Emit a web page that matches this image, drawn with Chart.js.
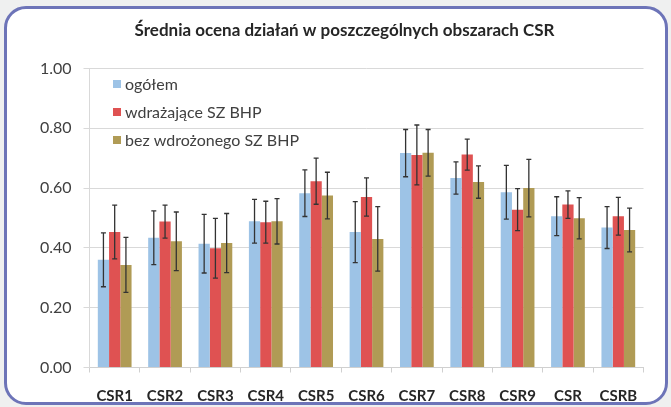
<!DOCTYPE html>
<html>
<head>
<meta charset="utf-8">
<script src="https://cdn.jsdelivr.net/npm/chart.js@4/dist/chart.umd.min.js"></script>
<style>
  html, body { margin: 0; padding: 0; background: #eff0f0; }
  #wrap { position: relative; width: 671px; height: 407px; overflow: hidden; }
  #frame {
    position: absolute; left: 4px; top: 6px; width: 658px; height: 393px;
    border: 3px solid #6d74b8; border-radius: 22px; background: #fff;
  }
  #c { position: absolute; left: 0; top: 0; }
</style>
</head>
<body>
<div id="wrap">
  <div id="frame"></div>
  <canvas id="c" width="671" height="407"></canvas>
</div>
<script>
const titleText = 'Średnia ocena działań w poszczególnych obszarach CSR';
const categories = ['CSR1', 'CSR2', 'CSR3', 'CSR4', 'CSR5', 'CSR6', 'CSR7', 'CSR8', 'CSR9', 'CSR', 'CSRB'];
const seriesNames = ['ogółem', 'wdrażające SZ BHP', 'bez wdrożonego SZ BHP'];
const ogolem = [0.36, 0.434, 0.414, 0.489, 0.583, 0.453, 0.717, 0.634, 0.586, 0.506, 0.468];
const wdrazajace = [0.453, 0.488, 0.399, 0.486, 0.623, 0.570, 0.711, 0.712, 0.528, 0.545, 0.506];
const bezWdrozonego = [0.343, 0.422, 0.416, 0.489, 0.575, 0.430, 0.718, 0.620, 0.600, 0.499, 0.460];
// half-widths of the error bars
const errOgolem = [0.09, 0.09, 0.098, 0.073, 0.078, 0.102, 0.079, 0.054, 0.09, 0.065, 0.07];
const errWdrazajace = [0.09, 0.055, 0.10, 0.07, 0.077, 0.064, 0.10, 0.052, 0.07, 0.046, 0.063];
const errBez = [0.092, 0.098, 0.099, 0.076, 0.078, 0.108, 0.078, 0.054, 0.096, 0.069, 0.073];
const yTickLabels = ['0.00', '0.20', '0.40', '0.60', '0.80', '1.00'];

const colors = ['#9dc3e6', '#df5252', '#b09b55'];
const errors = [errOgolem, errWdrazajace, errBez];

const errorBars = {
  id: 'errorBars',
  afterDatasetsDraw(chart) {
    const ctx = chart.ctx;
    const y = chart.scales.y;
    ctx.save();
    ctx.strokeStyle = '#333';
    ctx.lineWidth = 1.3;
    chart.data.datasets.forEach((ds, i) => {
      const meta = chart.getDatasetMeta(i);
      meta.data.forEach((bar, j) => {
        const v = ds.data[j], e = errors[i][j];
        const top = y.getPixelForValue(v + e);
        const bot = y.getPixelForValue(v - e);
        ctx.beginPath();
        ctx.moveTo(bar.x, top); ctx.lineTo(bar.x, bot);
        ctx.moveTo(bar.x - 2.5, top); ctx.lineTo(bar.x + 2.5, top);
        ctx.moveTo(bar.x - 2.5, bot); ctx.lineTo(bar.x + 2.5, bot);
        ctx.stroke();
      });
    });
    ctx.restore();
  }
};

// title and legend sit at fixed spots like in the original picture
const titleAndLegend = {
  id: 'titleAndLegend',
  afterDraw(chart) {
    const ctx = chart.ctx;
    ctx.save();
    ctx.textBaseline = 'middle';
    ctx.textAlign = 'center';
    ctx.font = 'bold 17px Lato';
    ctx.fillStyle = '#262626';
    ctx.fillText(titleText, 344.5, 31);

    ctx.textAlign = 'left';
    ctx.font = '16px Lato';
    chart.data.datasets.forEach((ds, i) => {
      const cy = 84 + i * 28;
      ctx.fillStyle = ds.backgroundColor;
      ctx.fillRect(113, cy - 4, 8, 8);
      ctx.fillStyle = '#404040';
      ctx.fillText(ds.label, 125, cy + 1);
    });
    ctx.restore();
  }
};

new Chart(document.getElementById('c'), {
  type: 'bar',
  data: {
    labels: categories,
    datasets: [
      { label: seriesNames[0], data: ogolem, backgroundColor: colors[0] },
      { label: seriesNames[1], data: wdrazajace, backgroundColor: colors[1] },
      { label: seriesNames[2], data: bezWdrozonego, backgroundColor: colors[2] }
    ]
  },
  options: {
    responsive: false,
    animation: false,
    events: [],
    datasets: { bar: { barPercentage: 1, categoryPercentage: 0.67 } },
    layout: { padding: { left: 0, right: 27.5, top: 68.5, bottom: 0 } },
    plugins: {
      legend: { display: false },
      tooltip: { enabled: false },
      title: { display: false }
    },
    scales: {
      x: {
        grid: { display: true, drawOnChartArea: false, drawTicks: true, tickLength: 5, color: '#d0d0d0', offset: true },
        border: { display: true, color: '#d0d0d0' },
        ticks: { color: '#262626', padding: 14.5, font: { family: 'Lato', size: 15, weight: 'bold', lineHeight: 1.2 } },
        afterFit(s) { s.height = 39.5; s.paddingLeft = 0; s.paddingRight = 0; }
      },
      y: {
        min: 0, max: 1,
        ticks: {
          stepSize: 0.2,
          color: '#404040',
          padding: 12,
          font: { family: 'Lato', size: 16 },
          callback: (v, i) => yTickLabels[i]
        },
        grid: { color: '#d9d9d9', tickLength: 6 },
        border: { display: true, color: '#d9d9d9' },
        afterFit(s) { s.width = 89.5; s.paddingTop = 0; s.paddingBottom = 0; }
      }
    }
  },
  plugins: [errorBars, titleAndLegend]
});
</script>
</body>
</html>
